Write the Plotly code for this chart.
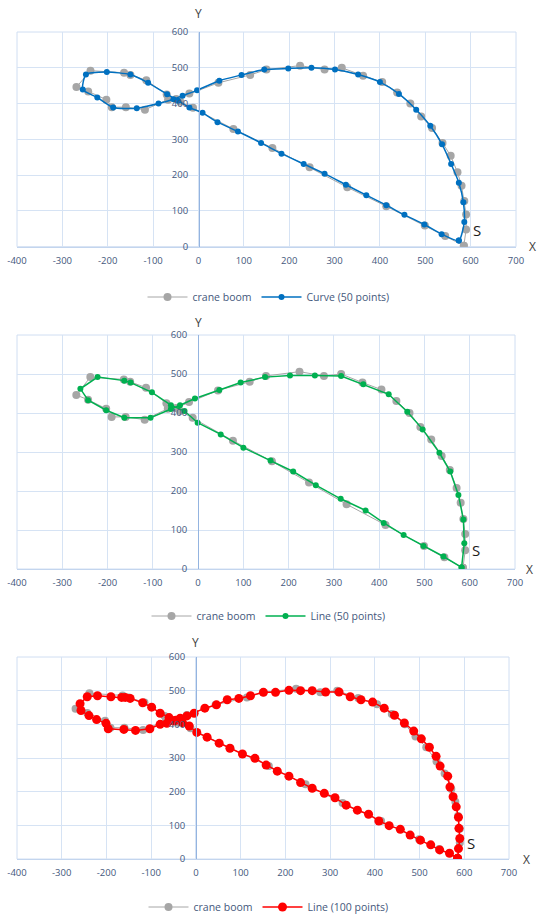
import plotly.graph_objects as go

# ---------------- data ----------------
boom_x = [585, 590, 590, 586, 580, 571, 556, 538, 515, 491, 467, 438, 405, 363, 316, 278, 224, 150, 114, 44,
          -20, -49, -67, -118, -160, -191, -203, -243, -269, -238, -164, -150, -115, -70, -40, -12, 77, 163,
          245, 328, 414, 499, 544, 585]
boom_y = [3, 48, 90, 128, 170, 208, 254, 290, 332, 364, 400, 431, 460, 478, 500, 495, 506, 495, 480, 458,
          428, 413, 411, 383, 390, 390, 411, 434, 446, 492, 486, 480, 465, 425, 405, 388, 329, 276,
          222, 166, 113, 59, 30, 3]

curve_x = [574, 586, 584, 574, 557, 537, 511, 480, 442, 400, 352, 301, 249, 198, 145, 95, 46, -3, -35, -55,
           -88, -136, -188, -223, -255, -248, -202, -150, -111, -69, -45, -20, 9, 42, 87, 138, 183, 232,
           278, 325, 370, 414, 454, 498, 536, 574]
curve_y = [17, 69, 124, 179, 231, 286, 338, 383, 427, 460, 481, 495, 500, 498, 495, 480, 464, 437, 422, 412,
           400, 387, 389, 417, 439, 481, 488, 481, 458, 426, 408, 389, 374, 348, 322, 290, 260, 231,
           204, 173, 144, 116, 89, 62, 35, 17]

line50_x = [582, 588, 586, 575, 557, 533, 496, 462, 421, 365, 316, 258, 203, 148, 94, 47, -7, -40, -60,
            -105, -163, -203, -243, -260, -222, -163, -149, -102, -60, -30, -1, 50, 100, 160, 210, 260,
            315, 370, 410, 454, 498, 542, 582]
line50_y = [4, 66, 127, 190, 250, 298, 358, 403, 448, 474, 495, 496, 496, 492, 478, 459, 437, 420, 410,
            388, 388, 407, 433, 462, 492, 483, 478, 453, 420, 405, 375, 345, 311, 278, 250, 215,
            180, 150, 118, 87, 59, 32, 4]

line100_x = [585, 587, 590, 588, 587, 582, 575, 568, 563, 546, 537, 522, 504, 487, 466, 444, 421, 395, 369,
             345, 320, 290, 260, 234, 208, 178, 151, 122, 96, 70, 46, 20, -4, -20, -35, -50, -65, -80,
             -103, -135, -161, -196, -201, -222, -239, -257, -259, -243, -220, -190, -166, -158, -147,
             -119, -99, -80, -60, -45, -30, -15, 2, 25, 52, 76, 104, 132, 157, 182, 208, 234, 260, 287,
             311, 336, 361, 386, 409, 432, 457, 479, 502, 525, 545, 567, 585]
line100_y = [2, 31, 61, 91, 124, 155, 185, 214, 246, 276, 305, 332, 357, 380, 404, 427, 448, 466, 473,
             482, 496, 496, 500, 500, 501, 495, 495, 485, 477, 473, 458, 448, 433, 425, 418, 410, 403, 400,
             387, 382, 385, 387, 403, 414, 426, 441, 461, 482, 485, 482, 480, 480, 477,
             464, 451, 433, 420, 412, 405, 395, 376, 362, 344, 329, 312, 299, 279, 261, 246, 227, 210, 195,
             182, 160, 145, 133, 113, 99, 88, 71, 56, 42, 27, 17, 2]

x_ticks = [-400, -300, -200, -100, 0, 100, 200, 300, 400, 500, 600, 700]
y_ticks = [0, 100, 200, 300, 400, 500, 600]

panels = [
    dict(name="Curve (50 points)", x=curve_x, y=curve_y, color="#0070c0", size=6, shape="spline"),
    dict(name="Line (50 points)", x=line50_x, y=line50_y, color="#00b050", size=6, shape="linear"),
    dict(name="Line (100 points)", x=line100_x, y=line100_y, color="#ff0000", size=9, shape="linear"),
]

W, H = 537, 916
# pixel geometry of each plot area: left, right, top, bottom, zero-x pixel, legend y, Y title y, X title x
geo = [
    (17, 516, 32, 246.7, 199, 297, 14, 532),
    (17, 515, 335, 569, 198, 616, 322, 529),
    (17, 509, 657, 859, 196, 907, 642, 526),
]

tick_color = "#44587c"
grid_color = "#d6e3f4"
axis_color = "#94b4e0"
font_fam = "Open Sans"

fig = go.Figure()
layout = dict(
    template="none",
    width=W, height=H, margin=dict(l=0, r=0, t=0, b=0, pad=0, autoexpand=False),
    paper_bgcolor="white", plot_bgcolor="white", showlegend=True,
    font=dict(family=font_fam, color=tick_color),
)
annotations = []
shapes = []

for i, (p, g) in enumerate(zip(panels, geo)):
    n = "" if i == 0 else str(i + 1)
    xa, ya = "x" + n, "y" + n
    leg = "legend" + n
    left, right, top, bottom, zx, legy, ytitle_y, xtitle_x = g
    fig.add_trace(go.Scatter(
        x=boom_x, y=boom_y, mode="lines+markers", name="crane boom",
        line=dict(color="#a6a6a6", width=1), marker=dict(color="#a6a6a6", size=8, line=dict(width=0)),
        xaxis=xa, yaxis=ya, legend=leg))
    fig.add_trace(go.Scatter(
        x=p["x"], y=p["y"], mode="lines+markers", name=p["name"],
        line=dict(color=p["color"], width=1.5, shape=p["shape"], smoothing=0.6),
        marker=dict(color=p["color"], size=p["size"], line=dict(width=0)),
        xaxis=xa, yaxis=ya, legend=leg))

    layout["xaxis" + n] = dict(
        domain=[left / W, right / W], anchor=ya, range=[-400, 700],
        tickvals=x_ticks, ticktext=[str(v) for v in x_ticks],
        showgrid=True, gridcolor=grid_color, gridwidth=1, zeroline=False,
        showline=True, linecolor="#c3d5ee", linewidth=1, ticks="",
        tickfont=dict(size=9.5, color=tick_color, family=font_fam),
        ticklabelstandoff=5, fixedrange=True, automargin=False)
    layout["yaxis" + n] = dict(
        domain=[1 - bottom / H, 1 - top / H], anchor="free",
        position=zx / W, range=[0, 600],
        tickvals=y_ticks, ticktext=[str(v) for v in y_ticks],
        showgrid=True, gridcolor=grid_color, gridwidth=1, zeroline=False,
        showline=True, linecolor=axis_color, linewidth=1, ticks="",
        tickfont=dict(size=9.5, color=tick_color, family=font_fam),
        ticklabelstandoff=9, fixedrange=True, automargin=False)
    layout[leg] = dict(
        orientation="h", x=0.5, xanchor="center", y=1 - legy / H, yanchor="middle",
        font=dict(size=10.5, color=tick_color, family=font_fam),
        bgcolor="rgba(0,0,0,0)", itemwidth=40, tracegroupgap=0)

    shapes.append(dict(type="rect", xref=xa + " domain", yref=ya + " domain",
                       x0=0, x1=1, y0=0, y1=1, line=dict(color="#d0def2", width=1),
                       layer="below"))
    annotations.append(dict(text="Y", xref=xa, x=0, yref="paper", y=1 - ytitle_y / H,
                            showarrow=False, xanchor="center", yanchor="middle",
                            font=dict(size=12, color="#404040", family=font_fam)))
    annotations.append(dict(text="X", xref="paper", x=xtitle_x / W,
                            yref="paper", y=1 - bottom / H, showarrow=False,
                            xanchor="center", yanchor="middle",
                            font=dict(size=12, color="#404040", family=font_fam)))
    annotations.append(dict(text="S", xref=xa, x=614, yref=ya, y=48, showarrow=False,
                            xanchor="center", yanchor="middle",
                            font=dict(size=15, color="#1a1a1a", family=font_fam)))

layout["annotations"] = annotations
layout["shapes"] = shapes
fig.update_layout(**layout)
fig.write_html(
    "out.html",
    config={"displayModeBar": False},
    post_script="document.body.style.margin='0';document.body.style.overflow='hidden';",
)
